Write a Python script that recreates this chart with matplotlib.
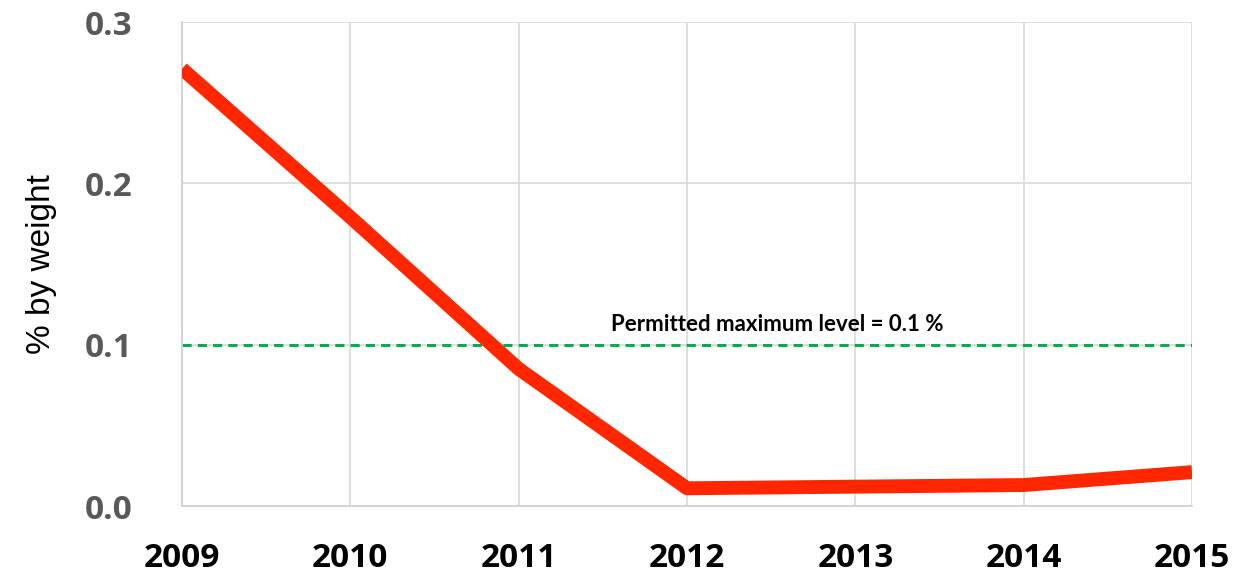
import matplotlib
matplotlib.use("Agg")
import matplotlib.pyplot as plt

years = [2009, 2010, 2011, 2012, 2013, 2014, 2015]
values = [0.271, 0.179, 0.085, 0.011, 0.012, 0.013, 0.021]
limit = 0.1
limit_label = "Permitted maximum level = 0.1 %"
y_ticks = [0.0, 0.1, 0.2, 0.3]

plt.rcParams["font.family"] = ["Lato", "DejaVu Sans"]

fig = plt.figure(figsize=(12.35, 5.76), dpi=100)
ax = fig.add_axes([0.1474, 0.1215, 0.8178, 0.8403])

ax.plot(years, values, color="#FF2600", linewidth=10, solid_capstyle="butt",
        solid_joinstyle="round", zorder=3)
ax.axhline(limit, color="#00B050", linestyle=(0, (3, 2)), linewidth=2.2, zorder=2)
ax.text(2011.55, limit + 0.006, limit_label, fontsize=16, fontweight="bold",
        color="black", ha="left", va="bottom")

ax.set_xlim(2009, 2015)
ax.set_ylim(0, 0.3)
ax.set_xticks(years)
ax.set_xticklabels([str(y) for y in years], fontsize=24, fontweight="bold",
                   color="black", family=["Open Sans", "DejaVu Sans"])
ax.set_yticks(y_ticks)
ax.set_yticklabels([f"{v:.1f}" for v in y_ticks], fontsize=24, fontweight="bold",
                   color="#595959", family=["Open Sans", "DejaVu Sans"])
ax.tick_params(axis="x", length=0, pad=26)
ax.tick_params(axis="y", length=0, pad=36)
ax.set_ylabel("% by weight", fontsize=24, labelpad=20,
              family=["Liberation Sans", "DejaVu Sans"])

ax.grid(True, color="#D9D9D9", linewidth=1.2)
ax.set_axisbelow(True)
for side in ["top", "right"]:
    ax.spines[side].set_visible(False)
for side in ["left", "bottom"]:
    ax.spines[side].set_color("#D0D0D0")
    ax.spines[side].set_linewidth(1.2)

fig.savefig("out.png", dpi=100)
